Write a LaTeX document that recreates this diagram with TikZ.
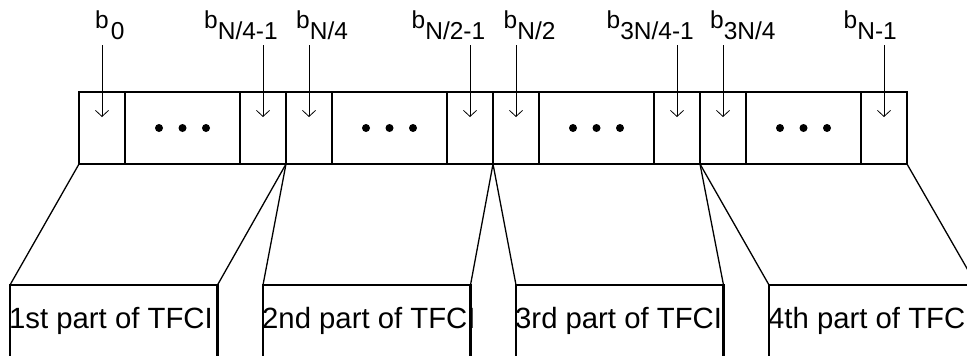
\documentclass[tikz,border=0pt]{standalone}
\usepackage{fontspec}
\setmainfont{Liberation Sans}
\usetikzlibrary{arrows.meta}
\begin{document}
\begin{tikzpicture}[x=1pt,y=-1pt,
  part/.style={draw,line width=2.6pt,minimum width=207pt,minimum height=72pt,anchor=north west,inner sep=0pt,outer sep=0pt},
  tfbox/.style={draw,line width=2.6pt,minimum width=207.5pt,minimum height=95pt,anchor=north west,inner sep=0pt,outer sep=0pt},
  divider/.style={line width=1.2pt},
  slant/.style={line width=1.3pt},
  bitarr/.style={line width=0.8pt,-{Straight Barb[length=6pt,width=13pt]}},
  bitlbl/.style={anchor=base west,inner sep=0pt,font=\fontsize{24.5}{28}\selectfont},
  tftext/.style={anchor=base west,inner sep=0pt,font=\fontsize{29.3}{33}\selectfont},
  dot/.style={fill=black}
]
\path[use as bounding box,clip] (0,0) rectangle (967,356);

% bottom boxes and top parts
\foreach \i/\x/\bx/\t in {1/79/10/1st, 2/286/263/2nd, 3/493/516/3rd, 4/700/769/4th} {
  \node[part] (P\i) at (\x,92) {};
  \node[tfbox] (B\i) at (\bx,285) {};
  \node[tftext] (T\i) at ([xshift=-1pt,yshift=-43pt]B\i.north west) {\t\ part of TFCI};
  % cell dividers
  \draw[divider] ([xshift=46pt]P\i.north west) -- ([xshift=46pt]P\i.south west);
  \draw[divider] ([xshift=161pt]P\i.north west) -- ([xshift=161pt]P\i.south west);
  % dots
  \coordinate (D\i) at ([xshift=103.5pt]P\i.west);
  \fill[dot] ([xshift=-23.5pt]D\i) circle (4pt);
  \fill[dot] (D\i) circle (4pt);
  \fill[dot] ([xshift=23.5pt]D\i) circle (4pt);
  % slanted connectors
  \draw[slant] (P\i.south west) -- (B\i.north west);
  \draw[slant] (P\i.south east) -- (B\i.north east);
  % bit arrows
  \coordinate (A\i a) at ([xshift=23pt,yshift=47pt]P\i.north west);
  \coordinate (E\i a) at ([xshift=23pt,yshift=-25pt]P\i.north west);
  \coordinate (A\i b) at ([xshift=-23pt,yshift=47pt]P\i.north east);
  \coordinate (E\i b) at ([xshift=-23pt,yshift=-25pt]P\i.north east);
  \draw[bitarr] (A\i a) -- (E\i a);
  \draw[bitarr] (A\i b) -- (E\i b);
}

% bit labels
\node[bitlbl] (L1a) at (95,28) {b\hspace{2pt}\raisebox{-11pt}{0}};
\node[bitlbl] (L1b) at (204,28) {b\raisebox{-11pt}{N/4-1}};
\node[bitlbl] (L2a) at (296,28) {b\raisebox{-11pt}{N/4}};
\node[bitlbl] (L2b) at (411.5,28) {b\raisebox{-11pt}{N/2-1}};
\node[bitlbl] (L3a) at (503.5,28) {b\raisebox{-11pt}{N/2}};
\node[bitlbl] (L3b) at (606.5,28) {b\raisebox{-11pt}{3N/4-1}};
\node[bitlbl] (L4a) at (710,28) {b\raisebox{-11pt}{3N/4}};
\node[bitlbl] (L4b) at (843.5,28) {b\raisebox{-11pt}{N-1}};
\end{tikzpicture}
\end{document}
